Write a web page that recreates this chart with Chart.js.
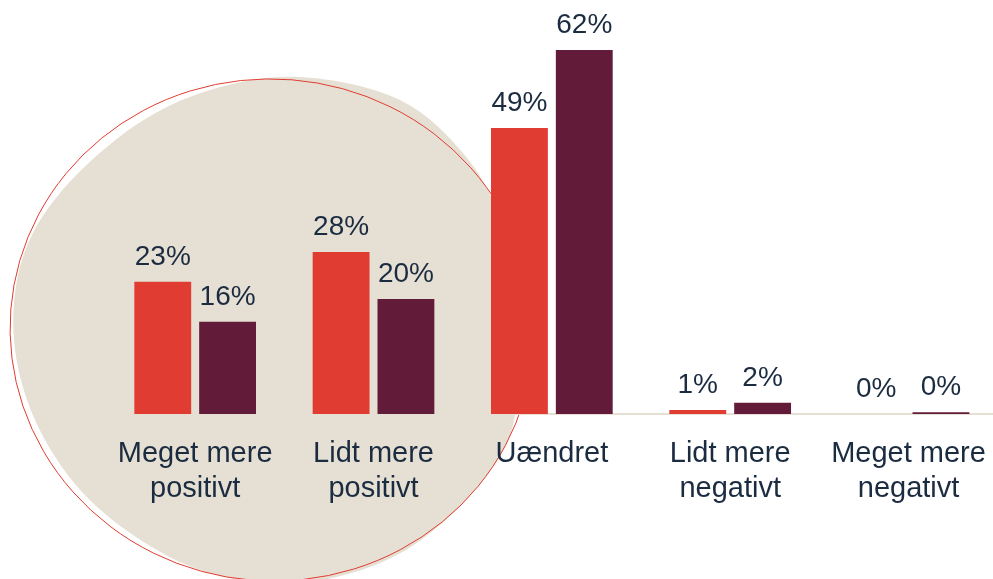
<!DOCTYPE html>
<html>
<head>
<meta charset="utf-8">
<script src="https://cdn.jsdelivr.net/npm/chart.js@4.4.1/dist/chart.umd.min.js"></script>
<style>
  html, body { margin: 0; padding: 0; background: #ffffff; overflow: hidden; }
  #chart { display: block; }
</style>
</head>
<body>
<canvas id="chart" width="1009" height="579"></canvas>
<script>
// kategorier og værdier
const categories = [
    ['Meget mere', 'positivt'],
    ['Lidt mere', 'positivt'],
    'Uændret',
    ['Lidt mere', 'negativt'],
    ['Meget mere', 'negativt'],
];
const seriesA = [22.5, 27.6, 48.7, 0.7, 0];
const seriesB = [15.7, 19.6, 62, 1.9, 0.3];

const RED = '#E03C31';
const PLUM = '#621C3A';
const BEIGE = '#E6E0D4';
const TEXT = '#1B2B40';

// baggrundsklat bag de første søjler
const blobPoints = [
    [300, 77], [400, 100], [467, 158], [502, 225], [519, 315], [515, 415],
    [492, 468], [440, 525], [380, 563], [300, 583], [220, 576], [150, 546],
    [82, 492], [35, 420], [14, 340], [22, 260], [60, 193], [133, 127], [210, 90],
];

const blobPlugin = {
    id: 'blob',
    beforeDraw(chart) {
        const ctx = chart.ctx;
        const p = blobPoints;
        const n = p.length;
        ctx.save();
        ctx.beginPath();
        ctx.moveTo(p[0][0], p[0][1]);
        for (let i = 0; i < n; i++) {
            const p0 = p[(i - 1 + n) % n], p1 = p[i], p2 = p[(i + 1) % n], p3 = p[(i + 2) % n];
            ctx.bezierCurveTo(
                p1[0] + (p2[0] - p0[0]) / 6, p1[1] + (p2[1] - p0[1]) / 6,
                p2[0] - (p3[0] - p1[0]) / 6, p2[1] - (p3[1] - p1[1]) / 6,
                p2[0], p2[1]
            );
        }
        ctx.closePath();
        ctx.fillStyle = BEIGE;
        ctx.fill();

        // tynd rød kontur
        ctx.beginPath();
        ctx.ellipse(272, 330, 262, 251, 0.08, 0, Math.PI * 2);
        ctx.strokeStyle = RED;
        ctx.lineWidth = 1;
        ctx.stroke();
        ctx.restore();
    }
};

// procentetiketter over søjlerne
const valueLabels = {
    id: 'valueLabels',
    afterDatasetsDraw(chart) {
        const ctx = chart.ctx;
        ctx.save();
        ctx.font = '28px "Liberation Sans", Arial, sans-serif';
        ctx.fillStyle = TEXT;
        ctx.textAlign = 'center';
        ctx.textBaseline = 'alphabetic';
        chart.data.datasets.forEach((ds, i) => {
            chart.getDatasetMeta(i).data.forEach((bar, j) => {
                ctx.fillText(Math.round(ds.data[j]) + '%', bar.x, bar.y - 17);
            });
        });
        ctx.restore();
    }
};

new Chart(document.getElementById('chart'), {
    type: 'bar',
    data: {
        labels: categories,
        datasets: [
            { data: seriesA, backgroundColor: RED },
            { data: seriesB, backgroundColor: PLUM },
        ],
    },
    options: {
        responsive: false,
        animation: false,
        layout: { padding: { left: 106, right: 1, top: 0, bottom: 0 } },
        plugins: {
            legend: { display: false },
            tooltip: { enabled: false },
        },
        datasets: {
            bar: { categoryPercentage: 0.727, barPercentage: 0.877 },
        },
        scales: {
            x: {
                grid: { display: false, drawTicks: false },
                border: { display: true, color: BEIGE, width: 2 },
                ticks: {
                    color: TEXT,
                    padding: 23,
                    maxRotation: 0,
                    autoSkip: false,
                    font: { family: '"Liberation Sans", Arial, sans-serif', size: 29, lineHeight: 1.2 },
                },
                afterFit(scale) { scale.height = 165; },
            },
            y: {
                display: false,
                min: 0,
                max: 70.5,
            },
        },
    },
    plugins: [blobPlugin, valueLabels],
});
</script>
</body>
</html>
